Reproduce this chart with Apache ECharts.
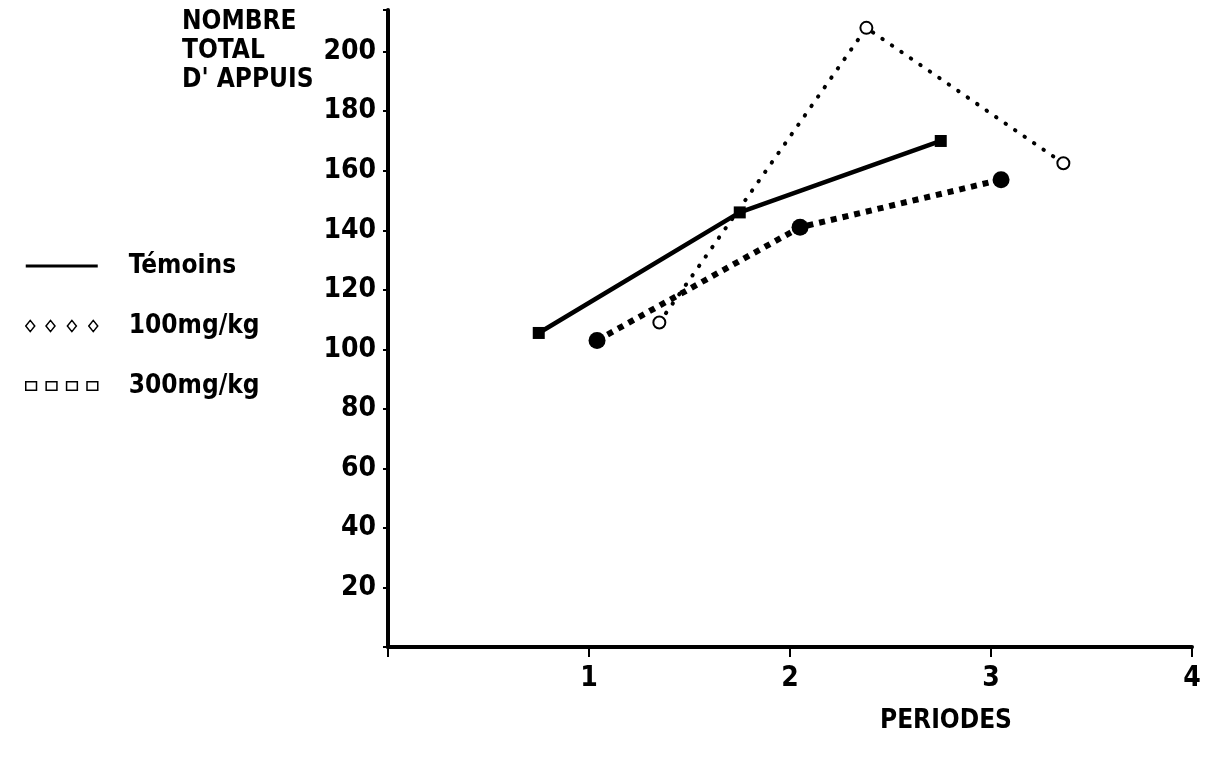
<!DOCTYPE html>
<html>
<head>
<meta charset="utf-8">
<script src="https://cdn.jsdelivr.net/npm/echarts@6/dist/echarts.min.js"></script>
<style>
  html, body { margin: 0; padding: 0; background: #fff; }
  #main { width: 1211px; height: 763px; }
</style>
</head>
<body>
<div id="main"></div>
<script>
// données
var temoinsX = [0.75, 1.75, 2.75];
var temoinsY = [105.5, 146, 170];
var dose100X = [1.35, 2.38, 3.36];
var dose100Y = [109, 208, 162.5];
var dose300X = [1.04, 2.05, 3.05];
var dose300Y = [103, 141, 157];
var xTicks = [1, 2, 3, 4];
var yTicks = [20, 40, 60, 80, 100, 120, 140, 160, 180, 200];

var FONT = "'Liberation Sans Narrow', 'DejaVu Sans Condensed', 'DejaVu Sans Mono', monospace";

function pairs(xs, ys) {
  return xs.map(function (x, i) { return [x, ys[i]]; });
}

var chart = echarts.init(document.getElementById('main'));

var option = {
  animation: false,
  backgroundColor: '#fff',
  grid: { left: 388, right: 19, top: 10, bottom: 116 },
  legend: {
    orient: 'vertical',
    left: 20,
    top: 248,
    itemWidth: 72,
    itemHeight: 14,
    itemGap: 34,
    textStyle: {
      fontFamily: FONT, fontWeight: 'bold', fontSize: 26, color: '#000',
      lineHeight: 24, padding: [0, 0, 0, 26]
    },
    data: [
      { name: 'Témoins', icon: 'path://M0,6L72,6L72,9L0,9Z', itemStyle: { color: '#000' } },
      {
        name: '100mg/kg',
        icon: 'path://M2,7L6,2L10,7L6,12Z M20,7L24,2L28,7L24,12Z M39,7L43,2L47,7L43,12Z M58,7L62,2L66,7L62,12Z',
        itemStyle: { color: '#fff', borderColor: '#000', borderWidth: 1.5 }
      },
      {
        name: '300mg/kg',
        icon: 'path://M1,3L11,3L11,11L1,11Z M20,3L30,3L30,11L20,11Z M39,3L49,3L49,11L39,11Z M58,3L68,3L68,11L58,11Z',
        itemStyle: { color: '#fff', borderColor: '#000', borderWidth: 1.5 }
      }
    ]
  },
  xAxis: {
    type: 'value',
    min: 0, max: 4, interval: 1,
    splitLine: { show: false },
    axisLine: { lineStyle: { color: '#000', width: 4 } },
    axisTick: { show: true, inside: false, length: 10, lineStyle: { color: '#000', width: 2 } },
    axisLabel: {
      margin: 18, color: '#000', fontFamily: FONT, fontWeight: 'bold', fontSize: 28,
      formatter: function (v) { return xTicks.indexOf(v) >= 0 ? String(v) : ''; }
    }
  },
  yAxis: {
    type: 'value',
    min: 0, max: 214, interval: 20,
    splitLine: { show: false },
    axisLine: { show: true, lineStyle: { color: '#000', width: 4 } },
    axisTick: { show: true, length: 5, lineStyle: { color: '#000', width: 2 } },
    axisLabel: {
      margin: 12, color: '#000', fontFamily: FONT, fontWeight: 'bold', fontSize: 28,
      formatter: function (v) { return yTicks.indexOf(v) >= 0 ? String(v) : ''; }
    }
  },
  graphic: [
    {
      type: 'text', left: 182, top: 8,
      style: {
        text: "NOMBRE\nTOTAL\nD' APPUIS", fill: '#000',
        font: "bold 26px " + FONT, lineHeight: 29
      }
    },
    {
      type: 'text', left: 880, top: 708,
      style: { text: 'PERIODES', fill: '#000', font: "bold 26px " + FONT }
    }
  ],
  series: [
    {
      name: 'Témoins', type: 'line',
      data: pairs(temoinsX, temoinsY),
      symbol: 'rect', symbolSize: 12,
      itemStyle: { color: '#000' },
      lineStyle: { color: '#000', width: 4.5 }
    },
    {
      name: '100mg/kg', type: 'line',
      data: pairs(dose100X, dose100Y),
      symbol: 'emptyCircle', symbolSize: 12,
      itemStyle: { color: '#000', borderWidth: 2.5 },
      lineStyle: { color: '#000', width: 4, type: [0.5, 11], cap: 'round' }
    },
    {
      name: '300mg/kg', type: 'line',
      data: pairs(dose300X, dose300Y),
      symbol: 'circle', symbolSize: 17,
      itemStyle: { color: '#000' },
      lineStyle: { color: '#000', width: 6, type: [6, 6] }
    }
  ]
};

chart.setOption(option);
</script>
</body>
</html>
